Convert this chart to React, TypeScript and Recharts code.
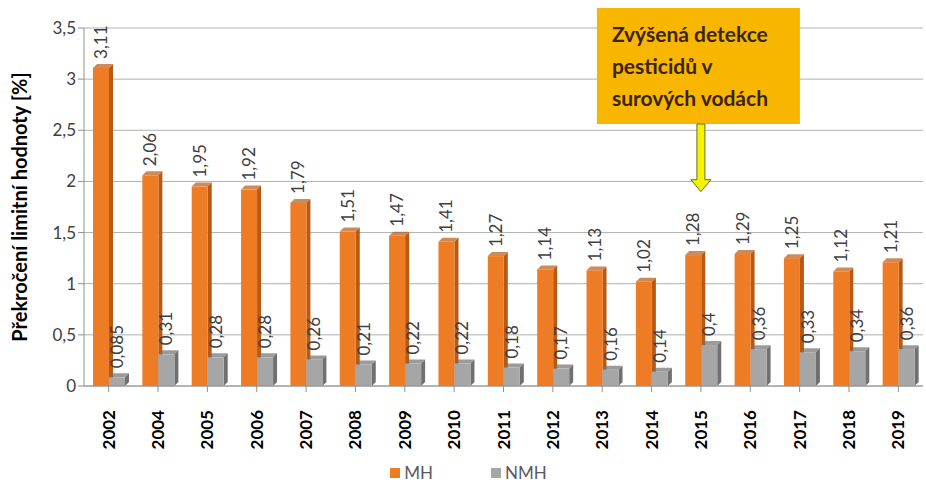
import { BarChart, Bar, XAxis, YAxis, CartesianGrid, Legend, LabelList, ReferenceDot } from 'recharts';

const years = ['2002', '2004', '2005', '2006', '2007', '2008', '2009', '2010', '2011', '2012', '2013', '2014', '2015', '2016', '2017', '2018', '2019'];
const mh = [3.11, 2.06, 1.95, 1.92, 1.79, 1.51, 1.47, 1.41, 1.27, 1.14, 1.13, 1.02, 1.28, 1.29, 1.25, 1.12, 1.21];
const nmh = [0.085, 0.31, 0.28, 0.28, 0.26, 0.21, 0.22, 0.22, 0.18, 0.17, 0.16, 0.14, 0.4, 0.36, 0.33, 0.34, 0.36];
const yTicks = [0, 0.5, 1, 1.5, 2, 2.5, 3, 3.5];
const noteLines = ['Zvýšená detekce', 'pesticidů v', 'surových vodách'];
const noteYear = '2015';
const noteTip = 1.9;

const data = years.map((y, i) => ({ year: y, MH: mh[i], NMH: nmh[i] }));

const FONT = 'Lato, "Liberation Sans", sans-serif';
const fmt = (v: number) => String(v).replace('.', ',');

function Bar3D(props: any) {
  const { x, y, width, height, fill, side } = props;
  if (!height || height <= 0) return null;
  const d = 4;
  return (
    <g>
      <polygon points={`${x + width},${y} ${x + width + d},${y - d} ${x + width + d},${y + height - d} ${x + width},${y + height}`} fill={side} />
      <polygon points={`${x},${y} ${x + d},${y - d} ${x + width + d},${y - d} ${x + width},${y}`} fill={side} opacity={0.7} />
      <rect x={x} y={y} width={width} height={height} fill={fill} />
    </g>
  );
}

function ValueLabel(props: any) {
  const { x, y, width, value } = props;
  const cx = x + width / 2 + 6;
  const ty = y - 9;
  return (
    <text x={cx} y={ty} transform={`rotate(-90 ${cx} ${ty})`} textAnchor="start" fontSize={17} fill="#404040" fontFamily={FONT}>
      {fmt(value)}
    </text>
  );
}

function YearTick(props: any) {
  const { x, y, payload } = props;
  const ty = y + 16;
  return (
    <text x={x + 6} y={ty} transform={`rotate(-90 ${x + 6} ${ty})`} textAnchor="end" fontSize={17} fontWeight="bold" fill="#000" fontFamily={FONT}>
      {payload.value}
    </text>
  );
}

function Note(props: any) {
  const { cx, cy } = props;
  const top = 8;
  const boxBottom = 124;
  const left = cx - 104;
  return (
    <g>
      <rect x={left} y={top} width={203} height={boxBottom - top} fill="#F8B600" />
      {noteLines.map((t, i) => (
        <text key={t} x={left + 15} y={top + 34 + i * 32} fontSize={21} fontWeight="bold" fill="#3A2413" fontFamily={FONT}>
          {t}
        </text>
      ))}
      <polygon
        points={`${cx - 4},${boxBottom} ${cx + 4},${boxBottom} ${cx + 4},${cy - 12} ${cx + 10},${cy - 12} ${cx},${cy} ${cx - 10},${cy - 12} ${cx - 4},${cy - 12}`}
        fill="#F4F400"
        stroke="#6B6B20"
        strokeWidth={1}
      />
    </g>
  );
}

function LegendBox() {
  const items = [
    { name: 'MH', color: '#EE7C25' },
    { name: 'NMH', color: '#A6A6A6' },
  ];
  return (
    <div style={{ display: 'flex', justifyContent: 'center', gap: 58, fontFamily: FONT, fontSize: 17, color: '#595959', paddingTop: 16, paddingLeft: 14 }}>
      {items.map((it) => (
        <div key={it.name} style={{ display: 'flex', alignItems: 'center', gap: 4 }}>
          <span style={{ width: 10, height: 10, background: it.color, display: 'inline-block' }} />
          <span>{it.name}</span>
        </div>
      ))}
    </div>
  );
}

export default function App() {
  return (
    <div style={{ position: 'absolute', left: 0, top: 0, background: '#fff' }}>
      <BarChart width={926} height={487} data={data} margin={{ top: 28, right: 3, bottom: 5, left: 0 }} barGap={0} barSize={16}>
        <CartesianGrid vertical={false} stroke="#B0B0B0" />
        <XAxis dataKey="year" interval={0} height={60} tick={<YearTick />} tickLine={{ stroke: '#909090' }} axisLine={{ stroke: '#909090' }} />
        <YAxis
          domain={[0, 3.5]}
          ticks={yTicks}
          width={84}
          tickFormatter={fmt}
          tick={{ fontSize: 17, fill: '#404040', fontFamily: FONT }}
          tickLine={{ stroke: '#909090' }}
          axisLine={{ stroke: '#909090' }}
          label={{
            value: 'Překročení limitní hodnoty [%]',
            angle: -90,
            position: 'insideLeft',
            offset: 20,
            style: { textAnchor: 'middle', fontSize: 20, fontWeight: 'bold', fill: '#000', fontFamily: FONT },
          }}
        />
        <Legend verticalAlign="bottom" height={36} content={<LegendBox />} />
        <Bar dataKey="MH" fill="#EE7C25" isAnimationActive={false} shape={<Bar3D side="#B85A14" />}>
          <LabelList dataKey="MH" content={<ValueLabel />} />
        </Bar>
        <Bar dataKey="NMH" fill="#A6A6A6" isAnimationActive={false} shape={<Bar3D side="#707070" />}>
          <LabelList dataKey="NMH" content={<ValueLabel />} />
        </Bar>
        <ReferenceDot x={noteYear} y={noteTip} ifOverflow="visible" shape={<Note />} />
      </BarChart>
    </div>
  );
}
